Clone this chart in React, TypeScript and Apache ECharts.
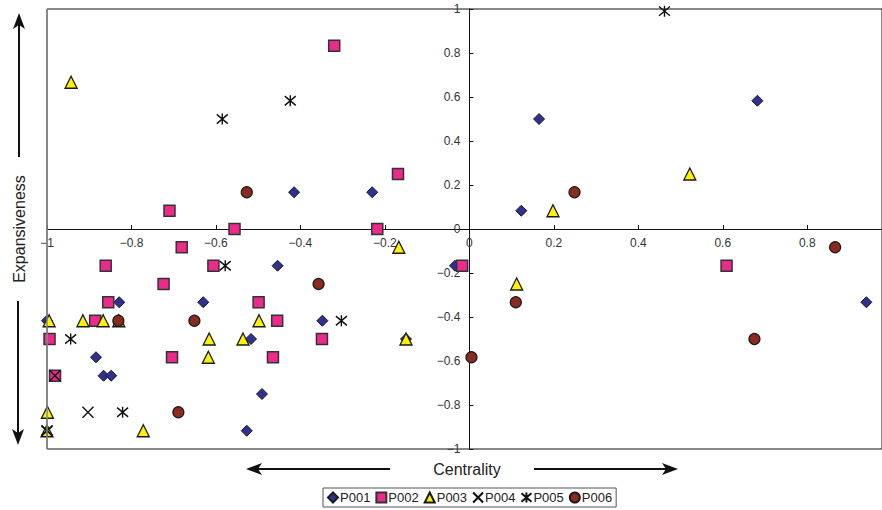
import React, { useEffect, useRef } from "react";
import * as echarts from "echarts";

const seriesNames = ["P001", "P002", "P003", "P004", "P005", "P006"];

const p001: [number, number][] = [
  [-0.415, 0.167], [-0.23, 0.167], [0.165, 0.5], [0.682, 0.583], [0.123, 0.083],
  [0.94, -0.333], [-0.034, -0.167], [-0.454, -0.167], [-0.63, -0.333], [-0.829, -0.333],
  [-0.348, -0.417], [-1.0, -0.417], [-0.517, -0.5], [-0.15, -0.5], [-0.884, -0.583],
  [-0.866, -0.667], [-0.848, -0.667], [-0.491, -0.75], [-0.527, -0.917],
];
const p002: [number, number][] = [
  [-0.32, 0.833], [-0.169, 0.25], [-0.71, 0.083], [-0.556, 0], [-0.218, 0],
  [-0.681, -0.083], [-0.861, -0.167], [-0.606, -0.167], [-0.017, -0.167], [0.609, -0.167],
  [-0.724, -0.25], [-0.855, -0.333], [-0.499, -0.333], [-0.886, -0.417], [-0.455, -0.417],
  [-0.994, -0.5], [-0.349, -0.5], [-0.704, -0.583], [-0.465, -0.583], [-0.981, -0.667],
];
const p003: [number, number][] = [
  [-0.943, 0.667], [0.198, 0.083], [0.522, 0.25], [-0.167, -0.083], [0.112, -0.25],
  [-0.995, -0.417], [-0.915, -0.417], [-0.867, -0.417], [-0.83, -0.417], [-0.498, -0.417],
  [-0.616, -0.5], [-0.536, -0.5], [-0.15, -0.5], [-0.618, -0.583], [-0.999, -0.833],
  [-0.772, -0.917], [-1.0, -0.917],
];
const p004: [number, number][] = [
  [-0.981, -0.667], [-0.903, -0.833], [-1.0, -0.917],
];
const p005: [number, number][] = [
  [-0.585, 0.5], [-0.424, 0.583], [0.462, 0.99], [-0.578, -0.167], [-0.303, -0.417],
  [-0.944, -0.5], [-0.821, -0.833], [-1.0, -0.917],
];
const p006: [number, number][] = [
  [-0.527, 0.167], [0.249, 0.167], [0.866, -0.083], [-0.357, -0.25], [0.11, -0.333],
  [0.675, -0.5], [0.005, -0.583], [-0.831, -0.417], [-0.651, -0.417], [-0.689, -0.833],
];

const xTicks = [-1, -0.8, -0.6, -0.4, -0.2, 0, 0.2, 0.4, 0.6, 0.8];
const yTicks = [-1, -0.8, -0.6, -0.4, -0.2, 0, 0.2, 0.4, 0.6, 0.8, 1];

const FONT = "Liberation Sans, Arial, Helvetica, sans-serif";

const fmt = (v: number) => String(Math.round(v * 10) / 10).replace("-", "\u2212");

export default function App() {
  const ref = useRef<HTMLDivElement>(null);
  useEffect(() => {
    if (!ref.current) return;
    const chart = echarts.init(ref.current, undefined, { renderer: "svg" });
    const X_PATH = "path://M0,0L10,10M10,0L0,10";
    const AST_PATH = "path://M0,0.8L10,9.2M10,0.8L0,9.2M5,0L5,10";
    const mk = (name: string, data: [number, number][], symbol: string, size: number, color: string, border: string, bw: number) => ({
      name,
      type: "scatter",
      data,
      symbol,
      symbolSize: size,
      itemStyle: { color, borderColor: border, borderWidth: bw, opacity: 1 },
      emphasis: { disabled: true },
    });
    const arrowColor = "#111";
    // grid: left 47, top 9, width 835, height 440; x range [-1, 0.977], y range [-1, 1]
    const gridLeft = 47;
    const gridTop = 9;
    const gridW = 882 - gridLeft;
    const gridH = 440;
    const xMin = -1;
    const xMax = 0.977;
    const zeroXOffset = (-xMin / (xMax - xMin)) * gridW; // px from left edge to x=0
    const zeroYOffset = gridH / 2; // px from bottom edge to y=0
    chart.setOption({
      animation: false,
      backgroundColor: "#fff",
      textStyle: { fontFamily: FONT },
      grid: { left: gridLeft, top: gridTop, right: 0, bottom: 510 - gridTop - gridH, show: true, borderColor: "#111", borderWidth: 1 },
      xAxis: {
        type: "value",
        min: xMin,
        max: xMax,
        offset: -zeroYOffset,
        axisLine: { onZero: false, lineStyle: { color: "#111", width: 1 } },
        axisTick: { inside: true, length: 4, customValues: xTicks, lineStyle: { color: "#111" } },
        axisLabel: { customValues: xTicks, formatter: fmt, color: "#333", fontSize: 12, fontFamily: FONT, margin: 8 },
        splitLine: { show: false },
      },
      yAxis: {
        type: "value",
        min: -1,
        max: 1,
        interval: 0.2,
        offset: -zeroXOffset,
        axisLine: { onZero: false, lineStyle: { color: "#111", width: 1 } },
        axisTick: { inside: true, length: 4, customValues: yTicks, lineStyle: { color: "#111" } },
        axisLabel: { customValues: yTicks, formatter: fmt, color: "#333", fontSize: 12, fontFamily: FONT, margin: 9 },
        splitLine: { show: false },
      },
      legend: {
        data: seriesNames,
        left: 323,
        top: 488,
        padding: [3, 4],
        itemGap: 5,
        itemWidth: 10,
        itemHeight: 10,
        borderColor: "#555",
        borderWidth: 1,
        selectedMode: false,
        textStyle: { fontSize: 13, color: "#222", fontFamily: FONT, padding: [0, 0, 0, -3] },
      },
      series: [
        mk("P001", p001, "diamond", 11, "#2E3192", "#1a1a1a", 1),
        mk("P002", p002, "rect", 11, "#EC2A8C", "#333", 1.5),
        mk("P003", p003, "triangle", 12, "#FFF200", "#1a1a1a", 1.3),
        mk("P004", p004, X_PATH, 11, "transparent", "#111", 1.4),
        mk("P005", p005, AST_PATH, 11, "transparent", "#111", 1.4),
        mk("P006", p006, "circle", 11, "#8B2A1E", "#1a1a1a", 1.2),
      ],
      graphic: [
        { type: "line", shape: { x1: gridLeft, y1: gridTop, x2: gridLeft, y2: gridTop + gridH }, style: { stroke: "#888", lineWidth: 1.5 }, z: 10 },
        { type: "text", x: 19, y: 229, rotation: Math.PI / 2, style: { text: "Expansiveness", fontSize: 16, fontFamily: FONT, fill: "#222", align: "center", verticalAlign: "middle" } },
        { type: "line", shape: { x1: 19, y1: 157, x2: 19, y2: 24 }, style: { stroke: arrowColor, lineWidth: 2 } },
        { type: "polygon", shape: { points: [[19, 13], [13, 29], [19, 25], [25, 29]] }, style: { fill: arrowColor } },
        { type: "line", shape: { x1: 18, y1: 301, x2: 18, y2: 434 }, style: { stroke: arrowColor, lineWidth: 2 } },
        { type: "polygon", shape: { points: [[18, 445], [12, 429], [18, 433], [24, 429]] }, style: { fill: arrowColor } },
        { type: "text", x: 467, y: 469, style: { text: "Centrality", fontSize: 16, fontFamily: FONT, fill: "#222", align: "center", verticalAlign: "middle" } },
        { type: "line", shape: { x1: 390, y1: 469, x2: 257, y2: 469 }, style: { stroke: arrowColor, lineWidth: 2 } },
        { type: "polygon", shape: { points: [[246, 469], [262, 463], [258, 469], [262, 475]] }, style: { fill: arrowColor } },
        { type: "line", shape: { x1: 534, y1: 469, x2: 667, y2: 469 }, style: { stroke: arrowColor, lineWidth: 2 } },
        { type: "polygon", shape: { points: [[678, 469], [662, 463], [666, 469], [662, 475]] }, style: { fill: arrowColor } },
      ],
    });
    return () => chart.dispose();
  }, []);
  return (
    <div
      ref={ref}
      style={{ position: "absolute", left: 0, top: 0, width: 882, height: 510 }}
    />
  );
}
